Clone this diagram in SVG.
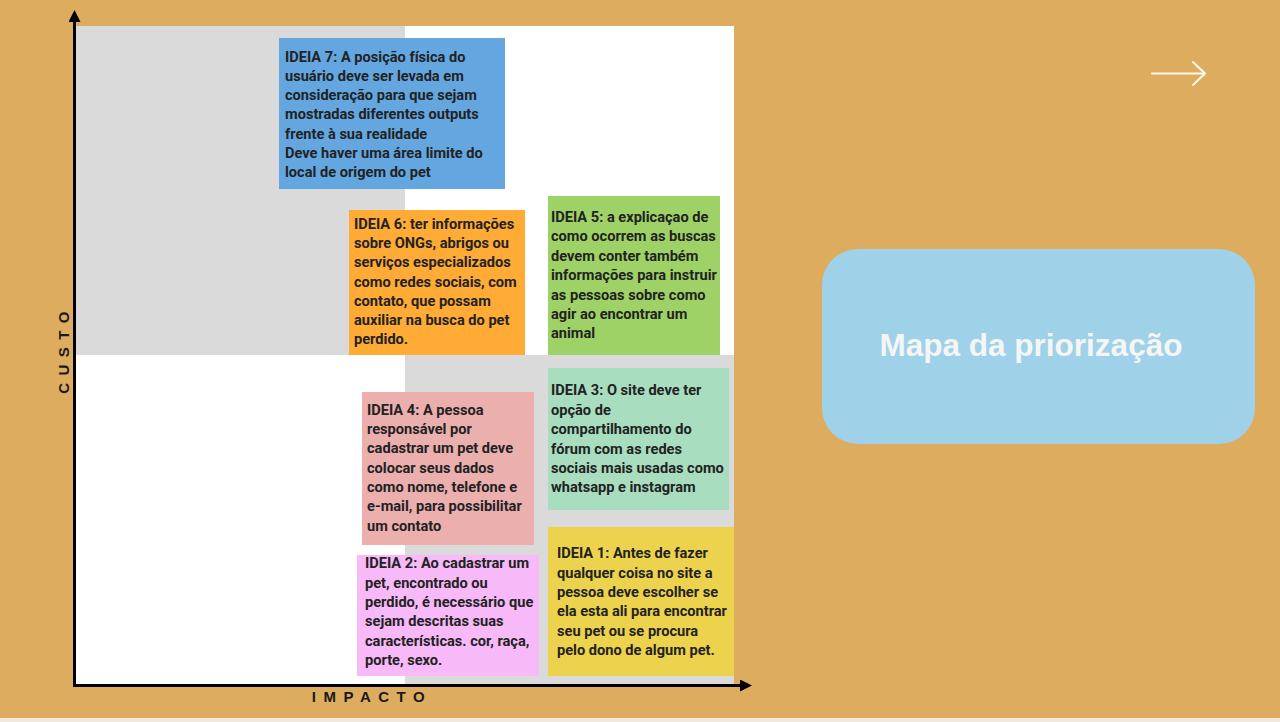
<svg xmlns="http://www.w3.org/2000/svg" width="1280" height="722" viewBox="0 0 1280 722">
  <defs>
    <style>
      .note { font-family: Roboto, "Liberation Sans", sans-serif; font-size: 14.6px; font-weight: 700; fill: #222222; }
      .axis-label { font-family: "Liberation Sans", Arial, sans-serif; font-size: 15px; font-weight: 700; fill: #1a1a1a; letter-spacing: 7.5px; }
      .axis { stroke: #000000; stroke-width: 3; fill: none; }
      .title { font-family: "Liberation Sans", Arial, sans-serif; font-size: 31.5px; font-weight: 700; fill: #F5F5F5; }
    </style>
    <marker id="axisHead" viewBox="0 0 10 10" refX="5" refY="5" markerWidth="4" markerHeight="4" orient="auto" markerUnits="strokeWidth">
      <path d="M0,0 L10,5 L0,10 Z" fill="#000000"/>
    </marker>
  </defs>

  <!-- background -->
  <rect x="0" y="0" width="1280" height="722" fill="#DEAC5E"/>
  <rect x="0" y="718" width="1280" height="4" fill="#F1E9DD"/>

  <!-- quadrants -->
  <g id="quadrants">
    <rect x="76" y="26" width="329" height="329" fill="#DADADA"/>
    <rect x="405" y="26" width="329" height="329" fill="#FFFFFF"/>
    <rect x="76" y="355" width="329" height="330" fill="#FFFFFF"/>
    <rect x="405" y="355" width="329" height="330" fill="#DADADA"/>
  </g>

  <!-- axes -->
  <g id="connectors">
    <line class="axis" x1="74.5" y1="686" x2="74.5" y2="16" marker-end="url(#axisHead)"/>
    <line class="axis" x1="73" y1="685.5" x2="746" y2="685.5" marker-end="url(#axisHead)"/>
  </g>

  <g id="axis-labels">
    <text class="axis-label" x="0" y="0" text-anchor="middle" transform="translate(68.5,349) rotate(-90)">CUSTO</text>
    <text class="axis-label" x="372" y="702" text-anchor="middle">IMPACTO</text>
  </g>

  <!-- idea notes -->
  <g id="ideia7">
    <rect x="279" y="38" width="226" height="151" fill="#64A7E0"/>
    <text class="note">
      <tspan x="285" y="62">IDEIA 7: A posição física do</tspan>
      <tspan x="285" y="81">usuário deve ser levada em</tspan>
      <tspan x="285" y="100">consideração para que sejam</tspan>
      <tspan x="285" y="119">mostradas diferentes outputs</tspan>
      <tspan x="285" y="139">frente à sua realidade</tspan>
      <tspan x="285" y="158">Deve haver uma área limite do</tspan>
      <tspan x="285" y="177">local de origem do pet</tspan>
    </text>
  </g>

  <g id="ideia6">
    <rect x="349" y="210" width="176" height="145" fill="#FFAB36"/>
    <text class="note">
      <tspan x="354" y="229">IDEIA 6: ter informações</tspan>
      <tspan x="354" y="248">sobre ONGs, abrigos ou</tspan>
      <tspan x="354" y="267">serviços especializados</tspan>
      <tspan x="354" y="287">como redes sociais, com</tspan>
      <tspan x="354" y="306">contato, que possam</tspan>
      <tspan x="354" y="325">auxiliar na busca do pet</tspan>
      <tspan x="354" y="344">perdido.</tspan>
    </text>
  </g>

  <g id="ideia5">
    <rect x="548" y="196" width="172" height="159" fill="#9FD266"/>
    <text class="note">
      <tspan x="551" y="222">IDEIA 5: a explicaçao de</tspan>
      <tspan x="551" y="241">como ocorrem as buscas</tspan>
      <tspan x="551" y="261">devem conter também</tspan>
      <tspan x="551" y="280">informações para instruir</tspan>
      <tspan x="551" y="300">as pessoas sobre como</tspan>
      <tspan x="551" y="319">agir ao encontrar um</tspan>
      <tspan x="551" y="338">animal</tspan>
    </text>
  </g>

  <g id="ideia4">
    <rect x="362" y="392" width="172" height="153" fill="#EBAFAE"/>
    <text class="note">
      <tspan x="367" y="415">IDEIA 4: A pessoa</tspan>
      <tspan x="367" y="434">responsável por</tspan>
      <tspan x="367" y="453">cadastrar um pet deve</tspan>
      <tspan x="367" y="473">colocar seus dados</tspan>
      <tspan x="367" y="492">como nome, telefone e</tspan>
      <tspan x="367" y="511">e-mail, para possibilitar</tspan>
      <tspan x="367" y="531">um contato</tspan>
    </text>
  </g>

  <g id="ideia3">
    <rect x="548" y="368" width="181" height="142" fill="#A8DDBF"/>
    <text class="note">
      <tspan x="551" y="395">IDEIA 3: O site deve ter</tspan>
      <tspan x="551" y="415">opção de</tspan>
      <tspan x="551" y="434">compartilhamento do</tspan>
      <tspan x="551" y="454">fórum com as redes</tspan>
      <tspan x="551" y="473">sociais mais usadas como</tspan>
      <tspan x="551" y="492">whatsapp e instagram</tspan>
    </text>
  </g>

  <g id="ideia2">
    <rect x="357" y="555" width="182" height="121" fill="#F7B9F7"/>
    <text class="note">
      <tspan x="365" y="568">IDEIA 2: Ao cadastrar um</tspan>
      <tspan x="365" y="588">pet, encontrado ou</tspan>
      <tspan x="365" y="607">perdido, é necessário que</tspan>
      <tspan x="365" y="626">sejam descritas suas</tspan>
      <tspan x="365" y="646">características. cor, raça,</tspan>
      <tspan x="365" y="665">porte, sexo.</tspan>
    </text>
  </g>

  <g id="ideia1">
    <rect x="548" y="527" width="186" height="149" fill="#EDD34D"/>
    <text class="note">
      <tspan x="557" y="558">IDEIA 1: Antes de fazer</tspan>
      <tspan x="557" y="578">qualquer coisa no site a</tspan>
      <tspan x="557" y="597">pessoa deve escolher se</tspan>
      <tspan x="557" y="616">ela esta ali para encontrar</tspan>
      <tspan x="557" y="636">seu pet ou se procura</tspan>
      <tspan x="557" y="655">pelo dono de algum pet.</tspan>
    </text>
  </g>

  <!-- next-slide arrow -->
  <g id="next-arrow" fill="none" stroke="#FFF8EC" stroke-width="2" stroke-linecap="round" stroke-linejoin="round">
    <line x1="1152" y1="73.5" x2="1205" y2="73.5"/>
    <polyline points="1193,62 1205,73.5 1193,85"/>
  </g>

  <!-- title card -->
  <g id="title-card">
    <rect x="822" y="249" width="433" height="195" rx="36" ry="36" fill="#9FD2E8"/>
    <text class="title" x="1031" y="356" text-anchor="middle">Mapa da priorização</text>
  </g>
</svg>
